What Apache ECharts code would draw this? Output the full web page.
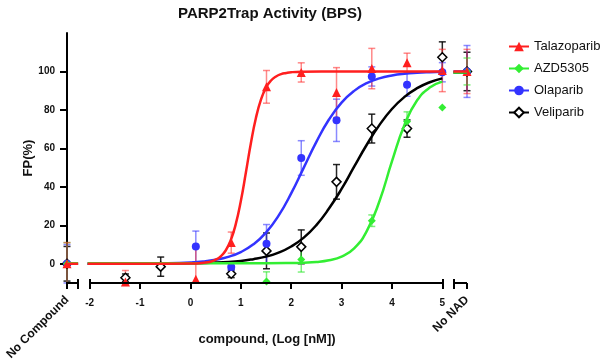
<!DOCTYPE html>
<html>
<head>
<meta charset="utf-8">
<script src="https://cdn.jsdelivr.net/npm/echarts@6/dist/echarts.min.js"></script>
<style>html,body{margin:0;padding:0;background:#fff}#chart{width:600px;height:359px}</style>
</head>
<body>
<div id="chart"></div>
<script>
// ---------- data ----------
const titleText = 'PARP2Trap Activity (BPS)';
const doses = [-1.29, -0.59, 0.107, 0.81, 1.51, 2.2, 2.9, 3.6, 4.3, 5.0]; // log [nM]
const noCompoundX = -2.45;   // position of "No Compound" control
const noNadX = 5.49;         // position of "No NAD" control
const xTickLabels = [-2, -1, 0, 1, 2, 3, 4, 5];
const yTickLabels = [0, 20, 40, 60, 80, 100];
const xBreakSegments = [[-2.53, -2.23], [-2.0, 5.0], [5.22, 5.49]];
const curveLeftX = [-2.45, -2.23];
const curveRightX = [5.22, 5.49];

const talazoparibValues = [-9.5, null, -8, 11, 92, 99.5, 89, 101.5, 104.5, 100.5];
const talazoparibErrors = [6, null, 16.5, 5.5, 8.5, 5, 13, 10.5, 5, 11];
const talazoparibControls = [0, 100];
const talazoparibControlErrors = [11, 11.5];
const talazoparibPlateau = [0, 100];
const talazoparibCurve = [[-2.04,0],[-1.0,0],[0.0,0.1],[0.3,0.6],[0.4,1.1],[0.5,2.1],[0.6,3.8],[0.7,6.9],[0.8,12.2],[0.9,20.6],[1.0,32.5],[1.1,47.3],[1.2,62.7],[1.3,75.8],[1.4,85.3],[1.5,91.6],[1.6,95.3],[1.7,97.4],[1.8,98.6],[1.9,99.2],[2.0,99.6],[2.2,99.9],[2.6,100],[3.5,100],[5.0,100]];

const azd5305Values = [null, null, null, null, -9.2, 2.2, null, 22.4, 74, 81.2];
const azd5305Errors = [null, null, null, null, 5, 6.5, null, 3, 5, 0];
const azd5305Controls = [0, 100];
const azd5305ControlErrors = [11, 7];
const azd5305Plateau = [0.3, 99.5];
const azd5305Curve = [[-2.04,0.3],[0.0,0.3],[1.0,0.3],[1.5,0.3],[2.0,0.4],[2.25,0.55],[2.5,0.9],[2.75,1.8],[3.0,3.7],[3.25,8.0],[3.5,17.0],[3.75,32.4],[4.0,53.2],[4.25,72.3],[4.5,85.0],[4.75,91.6],[5.0,94.7]];

const olaparibValues = [null, null, 9, -1.7, 10.4, 55, 74.6, 97.4, 93.1, 99.6];
const olaparibErrors = [null, null, 8, 2, 10, 9, 11, 5, 6, 5];
const olaparibControls = [0, 100];
const olaparibControlErrors = [10, 13.5];
const olaparibPlateau = [0, 100];
const olaparibCurve = [[-2.04,0],[-1.0,0.08],[-0.5,0.24],[0.0,0.7],[0.25,1.2],[0.5,2.1],[0.75,3.6],[1.0,6.1],[1.25,10.1],[1.5,16.2],[1.75,25.0],[2.0,36.6],[2.25,50],[2.5,63.4],[2.75,75.0],[3.0,83.8],[3.25,89.9],[3.5,93.9],[3.75,96.4],[4.0,97.9],[4.25,98.8],[4.5,99.3],[4.75,99.6],[5.0,99.8]];

const veliparibValues = [-7.3, -1.5, null, -5.2, 6.7, 8.8, 42.6, 70.3, 70.3, 107.4];
const veliparibErrors = [2, 5, null, 2, 9.3, 8.8, 9, 7.5, 4.5, 8];
const veliparibControls = [0, 100];
const veliparibControlErrors = [9, 10];
const veliparibPlateau = [0, 99.5];
const veliparibCurve = [[-2.04,0],[-1.0,0.04],[0.0,0.24],[0.5,0.6],[1.0,1.5],[1.25,2.4],[1.5,3.7],[1.75,5.8],[2.0,9.0],[2.25,13.6],[2.5,20.1],[2.75,28.7],[3.0,38.9],[3.25,50.5],[3.5,61.9],[3.75,72.1],[4.0,80.5],[4.25,86.8],[4.5,91.3],[4.75,94.4],[5.0,96.4]];

// ---------- build ----------
const yMin = -10, yMax = 120;
const FONT = 'Liberation Sans, Arial, Helvetica, sans-serif';

function pointData(vals, ctrl) {
  const out = [];
  doses.forEach((x, i) => { if (vals[i] !== null) out.push([x, vals[i]]); });
  out.push([noCompoundX, ctrl[0]]);
  out.push([noNadX, ctrl[1]]);
  return out;
}
function errData(vals, errs, ctrl, ctrlErr) {
  const out = [];
  doses.forEach((x, i) => { if (vals[i] !== null && errs[i]) out.push([x, vals[i], errs[i]]); });
  out.push([noCompoundX, ctrl[0], ctrlErr[0]]);
  out.push([noNadX, ctrl[1], ctrlErr[1]]);
  return out;
}
function curveData(curve, plateau) {
  return [[curveLeftX[0], plateau[0]], [curveLeftX[1], plateau[0]], ['-', '-']]
    .concat(curve)
    .concat([['-', '-'], [curveRightX[0], plateau[1]], [curveRightX[1], plateau[1]]]);
}
function errRenderer(color) {
  return function (params, api) {
    const x = api.value(0), y = api.value(1), e = api.value(2);
    const hiV = Math.min(y + e, yMax), loV = Math.max(y - e, yMin);
    const hi = api.coord([x, hiV]), lo = api.coord([x, loV]);
    const hw = 3.5;
    const st = { stroke: color, lineWidth: 1.5 };
    const ch = [{ type: 'line', shape: { x1: hi[0], y1: hi[1], x2: lo[0], y2: lo[1] }, style: st }];
    if (y + e <= yMax) ch.push({ type: 'line', shape: { x1: hi[0] - hw, y1: hi[1], x2: hi[0] + hw, y2: hi[1] }, style: st });
    if (y - e >= yMin) ch.push({ type: 'line', shape: { x1: lo[0] - hw, y1: lo[1], x2: lo[0] + hw, y2: lo[1] }, style: st });
    return { type: 'group', children: ch };
  };
}

const compounds = [
  { name: 'Veliparib', color: '#000000', err: 'rgba(0,0,0,0.85)', symbol: 'diamond', size: 9, fill: '#ffffff', border: 1.5,
    vals: veliparibValues, errs: veliparibErrors, ctrl: veliparibControls, ctrlErr: veliparibControlErrors, curve: veliparibCurve, plateau: veliparibPlateau },
  { name: 'Olaparib', color: '#3333ff', err: 'rgba(60,60,255,0.6)', symbol: 'circle', size: 8, fill: '#3333ff', border: 0,
    vals: olaparibValues, errs: olaparibErrors, ctrl: olaparibControls, ctrlErr: olaparibControlErrors, curve: olaparibCurve, plateau: olaparibPlateau },
  { name: 'AZD5305', color: '#33ee33', err: 'rgba(40,230,40,0.6)', symbol: 'diamond', size: 8, fill: '#33ee33', border: 0,
    vals: azd5305Values, errs: azd5305Errors, ctrl: azd5305Controls, ctrlErr: azd5305ControlErrors, curve: azd5305Curve, plateau: azd5305Plateau },
  { name: 'Talazoparib', color: '#ff1f1f', err: 'rgba(255,40,40,0.55)', symbol: 'triangle', size: 9, fill: '#ff1f1f', border: 0,
    vals: talazoparibValues, errs: talazoparibErrors, ctrl: talazoparibControls, ctrlErr: talazoparibControlErrors, curve: talazoparibCurve, plateau: talazoparibPlateau }
];

const axisSegData = [];
xBreakSegments.forEach((s, i) => {
  if (i > 0) axisSegData.push(['-', '-']);
  axisSegData.push([s[0], yMin], [s[1], yMin]);
});

const series = [{
  name: 'axis', type: 'line', data: axisSegData, symbol: 'none', clip: false, silent: true,
  lineStyle: { color: '#000', width: 2 }, connectNulls: false, animation: false
}];

compounds.forEach(c => {
  series.push({
    name: c.name + ' SD', type: 'custom', renderItem: errRenderer(c.err),
    data: errData(c.vals, c.errs, c.ctrl, c.ctrlErr), silent: true, animation: false, clip: false
  });
  series.push({
    name: c.name, type: 'line', data: curveData(c.curve, c.plateau), smooth: 0.5,
    showSymbol: false, symbol: c.symbol, symbolSize: c.size, connectNulls: false,
    lineStyle: { color: c.color, width: 2.5 },
    itemStyle: { color: c.fill, borderColor: c.color, borderWidth: c.border },
    silent: true, animation: false
  });
  series.push({
    name: c.name + ' points', type: 'scatter', data: pointData(c.vals, c.ctrl), symbol: c.symbol, symbolSize: c.size,
    itemStyle: { color: c.fill, borderColor: c.color, borderWidth: c.border, opacity: 1 },
    clip: false, silent: true, animation: false
  });
});

const chart = echarts.init(document.getElementById('chart'), null, { renderer: 'canvas' });
chart.setOption({
  animation: false,
  backgroundColor: '#ffffff',
  textStyle: { fontFamily: FONT },
  title: {
    text: titleText, left: 265, top: 1, textAlign: 'center',
    textStyle: { fontSize: 15, fontWeight: 'bold', color: '#111', fontFamily: FONT }
  },
  legend: {
    data: ['Talazoparib', 'AZD5305', 'Olaparib', 'Veliparib'],
    orient: 'vertical', left: 503, top: 35, itemWidth: 20, itemHeight: 12, itemGap: 9,
    textStyle: { fontSize: 13, color: '#111', fontFamily: FONT }
  },
  grid: { left: 67, right: 133, top: 33, bottom: 76, containLabel: false, outerBoundsMode: 'none' },
  xAxis: [{
    type: 'value', min: noCompoundX, max: noNadX, position: 'bottom',
    axisLine: { show: false, onZero: false },
    splitLine: { show: false },
    axisTick: { show: true, length: 6, customValues: [noCompoundX, -2.23, -2, -1, 0, 1, 2, 3, 4, 5, 5.22, noNadX],
      lineStyle: { color: '#000', width: 2 } },
    axisLabel: { customValues: xTickLabels, fontSize: 10, fontWeight: 'bold', color: '#111', margin: 15, fontFamily: FONT },
    name: 'compound, (Log [nM])', nameLocation: 'middle', nameGap: 50, nameMoveOverlap: false,
    nameTextStyle: { fontSize: 13, fontWeight: 'bold', color: '#111', fontFamily: FONT }
  }, {
    type: 'value', min: noCompoundX, max: noNadX, position: 'bottom',
    axisLine: { show: false, onZero: false },
    splitLine: { show: false },
    axisTick: { show: true, inside: true, length: 4, customValues: [-2.23, -2, 5, 5.22],
      lineStyle: { color: '#000', width: 2 } },
    axisLabel: { customValues: [noCompoundX, noNadX], rotate: 45, fontSize: 12, fontWeight: 'bold', color: '#111', margin: 15,
      fontFamily: FONT, formatter: v => (v < 0 ? 'No Compound' : 'No NAD') }
  }],
  yAxis: {
    type: 'value', min: yMin, max: yMax,
    axisLine: { show: true, onZero: false, lineStyle: { color: '#000', width: 2 } },
    splitLine: { show: false },
    axisTick: { show: true, length: 7, customValues: yTickLabels, lineStyle: { color: '#000', width: 2 } },
    axisLabel: { customValues: yTickLabels, fontSize: 10, fontWeight: 'bold', color: '#111', margin: 12, fontFamily: FONT },
    name: 'FP(%)', nameLocation: 'middle', nameGap: 32, nameMoveOverlap: false,
    nameTextStyle: { fontSize: 13, fontWeight: 'bold', color: '#111', fontFamily: FONT }
  },
  series: series
});
</script>
</body>
</html>
